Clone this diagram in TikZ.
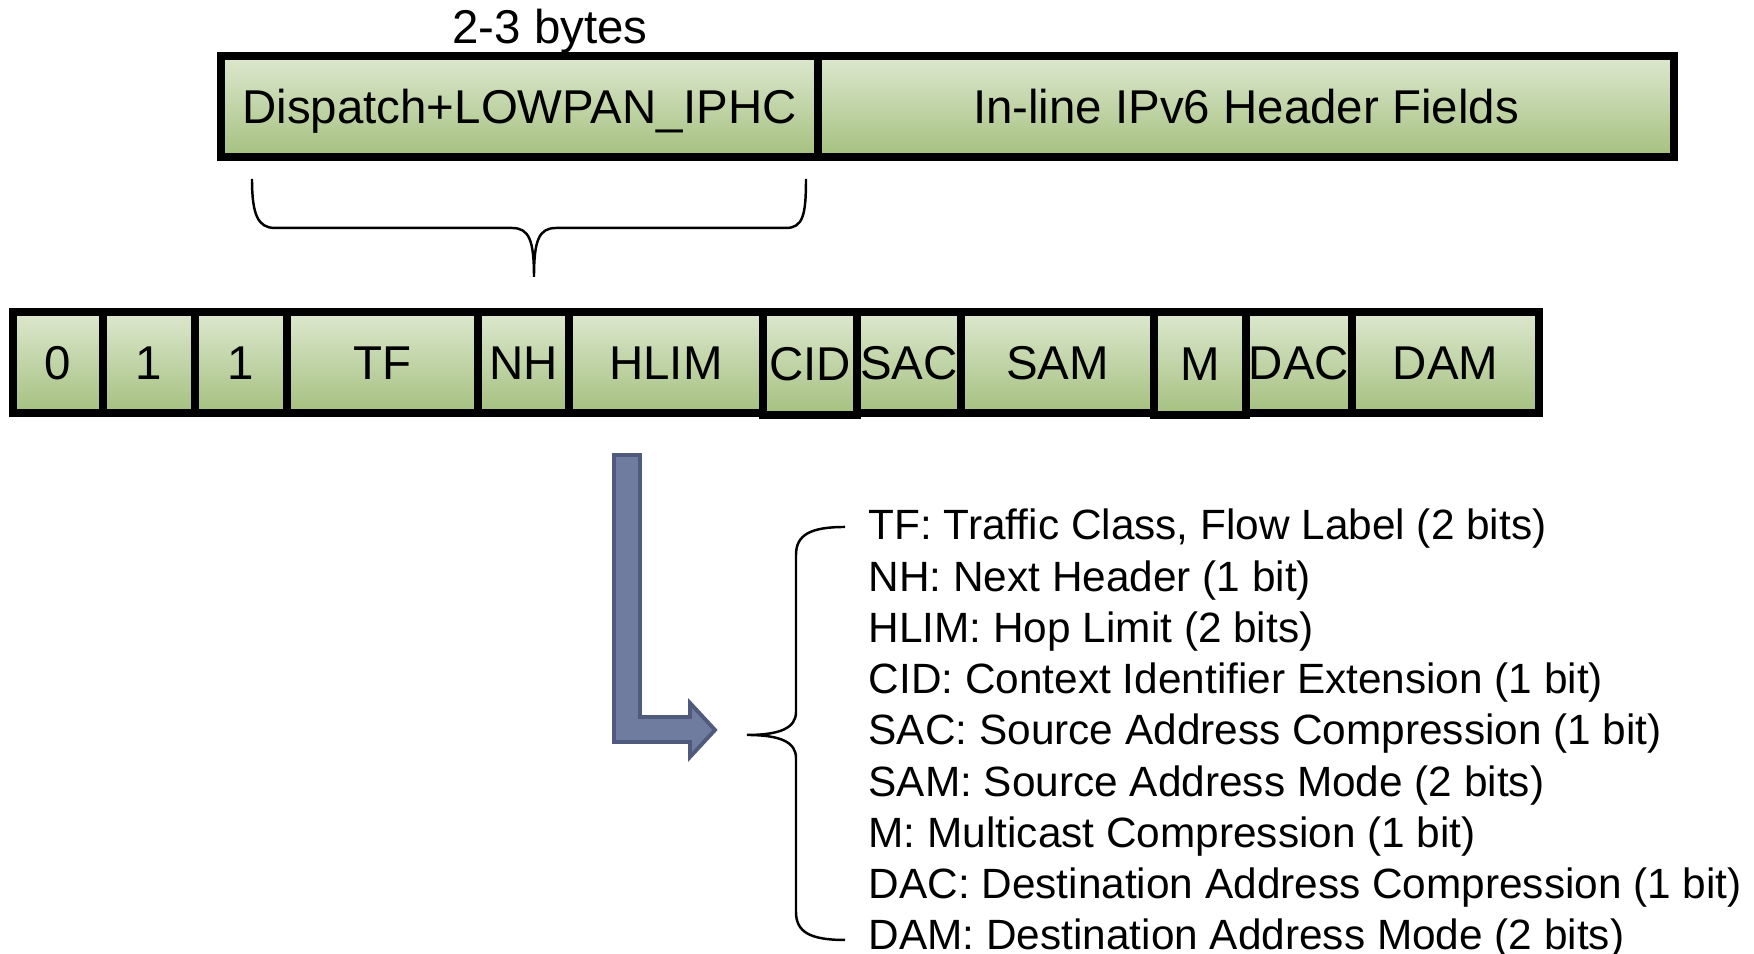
\documentclass[tikz,border=0pt]{standalone}
\usepackage{fontspec}
\setmainfont{Liberation Sans}
\definecolor{fieldgreenTop}{HTML}{DDE8CF}
\definecolor{fieldgreenBot}{HTML}{A5C07F}
\definecolor{arrowblue}{HTML}{6F7CA0}
\definecolor{arrowblueDark}{HTML}{4F5A7D}

\begin{document}
\begin{tikzpicture}[
    x=1cm, y=1cm,
    field/.style={
      rectangle, minimum height=1.01cm,
      top color=fieldgreenTop, bottom color=fieldgreenBot,
      draw=black, line width=2.1pt, outer sep=0pt, inner sep=0pt,
      text=black, font=\fontsize{13.5}{16}\selectfont,
      text height=9.7pt, text depth=0pt,
    },
    bytelab/.style={font=\fontsize{13.5}{16}\selectfont, anchor=base, inner sep=0pt},
    bracket/.style={draw=black, line width=0.7pt},
    blockarrow/.style={fill=arrowblue, draw=arrowblueDark, line width=1.1pt, line join=miter},
    legtext/.style={anchor=base west, inner sep=0pt, font=\fontsize{12.05}{14.5}\selectfont},
  ]
  \useasboundingbox (0,0) rectangle (17.54,9.54);

  % ---- Compressed header ----
  \node[bytelab] (bytes) at (5.50, 9.10) {2-3 bytes};
  \node[field, minimum width=5.97cm] (dispatch) at (5.195, 8.475) {Dispatch+LOWPAN\_IPHC};
  \node[field, minimum width=8.56cm] (inline)   at (12.46, 8.475) {In-line IPv6 Header Fields};

  % brace under the dispatch field
  \draw[bracket] (2.52,7.75) .. controls (2.52,7.39) and (2.58,7.26) .. (2.75,7.26)
    -- (5.12,7.26) .. controls (5.29,7.26) and (5.34,7.14) .. (5.34,6.77)
    .. controls (5.34,7.14) and (5.39,7.26) .. (5.56,7.26)
    -- (7.86,7.26) .. controls (8.03,7.26) and (8.06,7.39) .. (8.06,7.75);

  % ---- LOWPAN_IPHC bits ----
  \node[field, minimum width=0.90cm] (bit0) at (0.58, 5.915)   {0};
  \node[field, minimum width=0.92cm] (bit1) at (1.49, 5.915)   {1};
  \node[field, minimum width=0.92cm] (bit2) at (2.41, 5.915)   {1};
  \node[field, minimum width=1.91cm] (tf)   at (3.825, 5.915)  {TF};
  \node[field, minimum width=0.91cm] (nh)   at (5.235, 5.915)  {NH};
  \node[field, minimum width=1.94cm] (hlim) at (6.66, 5.915)   {HLIM};
  \node[field, minimum width=1.04cm] (sac)  at (9.09, 5.915)   {SAC};
  \node[field, minimum width=1.93cm] (sam)  at (10.575, 5.915) {SAM};
  \node[field, minimum width=1.06cm] (dac)  at (12.99, 5.915)  {DAC};
  \node[field, minimum width=1.87cm] (dam)  at (14.455, 5.915) {DAM};
  % these two reach a little lower
  \node[field, minimum width=0.94cm, minimum height=1.03cm] (cid) at (8.10, 5.905)  {CID};
  \node[field, minimum width=0.92cm, minimum height=1.03cm] (mc)  at (12.00, 5.905) {M};

  % ---- Bent block arrow ----
  \draw[blockarrow] (6.14,4.99) -- (6.40,4.99) -- (6.40,2.37) -- (6.90,2.37) -- (6.90,2.51)
    -- (7.15,2.24) -- (6.90,1.97) -- (6.90,2.12) -- (6.14,2.12) -- cycle;

  % ---- Field legend ----
  \draw[bracket] (8.45,4.27) .. controls (8.10,4.27) and (7.96,4.19) .. (7.96,3.99)
    -- (7.96,2.42) .. controls (7.96,2.26) and (7.80,2.19) .. (7.47,2.19)
    .. controls (7.80,2.19) and (7.96,2.12) .. (7.96,1.96)
    -- (7.96,0.42) .. controls (7.96,0.22) and (8.10,0.14) .. (8.45,0.14);

  \node[legtext] (legtf)   at (8.68, 4.14) {TF: Traffic Class, Flow Label (2 bits)};
  \node[legtext] (legnh)   at ([yshift=-0.5125cm]legtf.base west)   {NH: Next Header (1 bit)};
  \node[legtext] (leghlim) at ([yshift=-0.5125cm]legnh.base west)   {HLIM: Hop Limit (2 bits)};
  \node[legtext] (legcid)  at ([yshift=-0.5125cm]leghlim.base west) {CID: Context Identifier Extension (1 bit)};
  \node[legtext] (legsac)  at ([yshift=-0.5125cm]legcid.base west)  {SAC: Source Address Compression (1 bit)};
  \node[legtext] (legsam)  at ([yshift=-0.5125cm]legsac.base west)  {SAM: Source Address Mode (2 bits)};
  \node[legtext] (legm)    at ([yshift=-0.5125cm]legsam.base west)  {M: Multicast Compression (1 bit)};
  \node[legtext] (legdac)  at ([yshift=-0.5125cm]legm.base west)    {DAC: Destination Address Compression (1 bit)};
  \node[legtext] (legdam)  at ([yshift=-0.5125cm]legdac.base west)  {DAM: Destination Address Mode (2 bits)};

\end{tikzpicture}
\end{document}
